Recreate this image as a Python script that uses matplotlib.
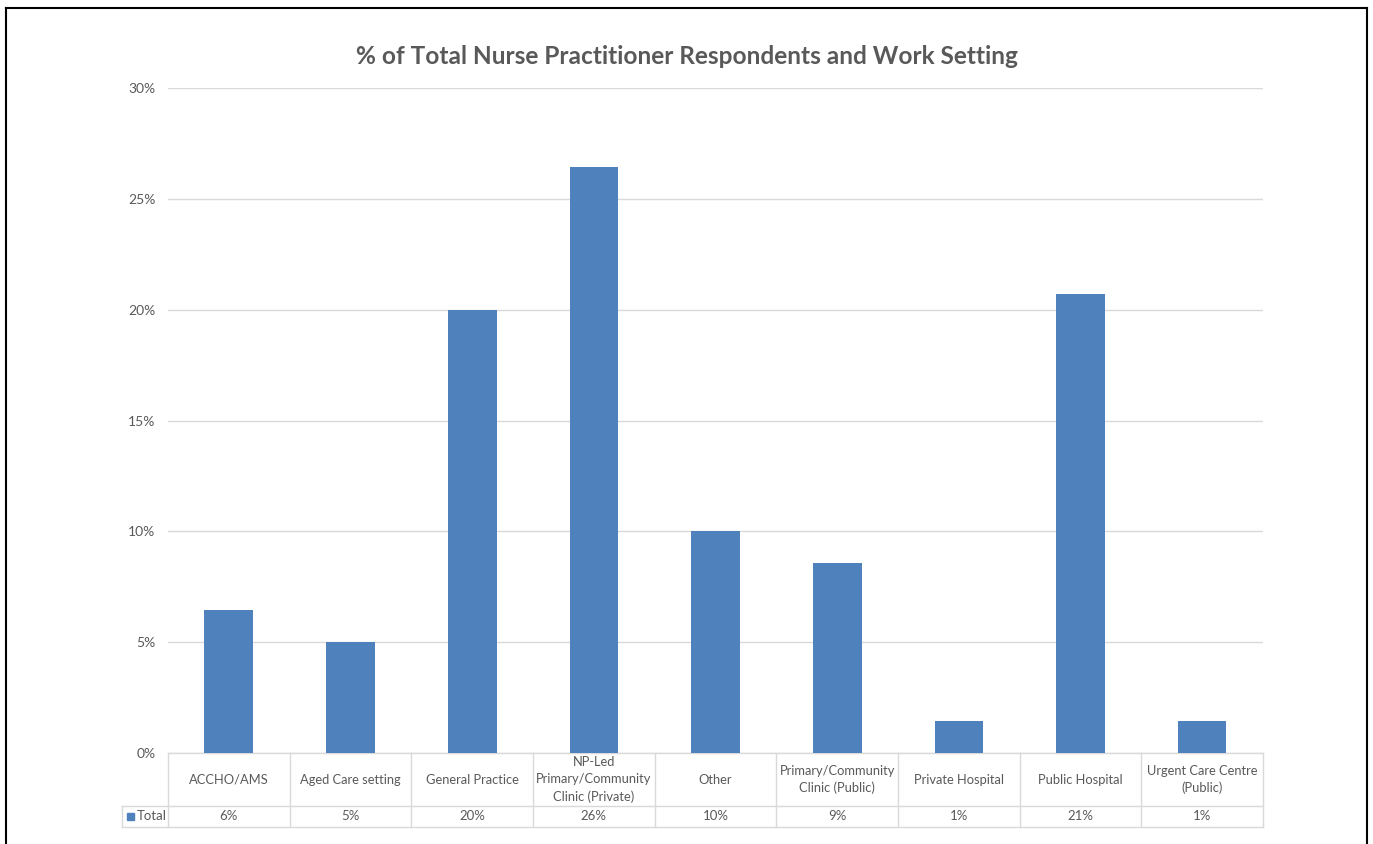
import matplotlib.pyplot as plt
from matplotlib.lines import Line2D
from matplotlib.patches import Rectangle

plt.rcParams['font.family'] = ['Lato', 'DejaVu Sans']

# data
categorias = ["ACCHO/AMS", "Aged Care setting", "General Practice",
              "NP-Led\nPrimary/Community\nClinic (Private)", "Other",
              "Primary/Community\nClinic (Public)", "Private Hospital",
              "Public Hospital", "Urgent Care Centre\n(Public)"]
valores = [6.43, 5.0, 20.0, 26.43, 10.0, 8.57, 1.43, 20.71, 1.43]
etiquetas = ["6%", "5%", "20%", "26%", "10%", "9%", "1%", "21%", "1%"]
yticks = [0, 5, 10, 15, 20, 25, 30]

azul = "#4F81BD"
gris_txt = "#595959"
gris_lin = "#D9D9D9"

fig = plt.figure(figsize=(13.73, 8.44), dpi=100)
ax = fig.add_axes([168 / 1373, 1 - 753 / 844, (1263 - 168) / 1373, (753 - 88) / 844])

x = list(range(len(categorias)))
ax.bar(x, valores, width=0.4, color=azul, zorder=3)
ax.set_xlim(-0.5, len(categorias) - 0.5)
ax.set_ylim(0, 30)
ax.set_yticks(yticks)
ax.set_yticklabels([f"{v}%" for v in yticks], color=gris_txt, fontsize=10)
ax.tick_params(axis="y", length=0, pad=9)
ax.set_xticks([])
ax.grid(axis="y", color=gris_lin, linewidth=1, zorder=0)
for s in ax.spines.values():
    s.set_visible(False)

# tabla de datos
tr = ax.get_xaxis_transform()
h1 = -53 / 665
h2 = -74 / 665
x_izq = -0.5 - 46 / ((1263 - 168) / len(categorias))
ax.add_line(Line2D([-0.5, len(categorias) - 0.5], [0, 0], transform=tr, color=gris_lin, lw=1, clip_on=False))
for yy in (h1, h2):
    ax.add_line(Line2D([x_izq, len(categorias) - 0.5], [yy, yy], transform=tr, color=gris_lin, lw=1, clip_on=False))
for i in range(len(categorias) + 1):
    ax.add_line(Line2D([i - 0.5, i - 0.5], [0, h2], transform=tr, color=gris_lin, lw=1, clip_on=False))
ax.add_line(Line2D([x_izq, x_izq], [h1, h2], transform=tr, color=gris_lin, lw=1, clip_on=False))

for i, (c, e) in enumerate(zip(categorias, etiquetas)):
    ax.text(i, h1 / 2, c, transform=tr, ha="center", va="center", fontsize=9.3,
            color=gris_txt, linespacing=1.5)
    ax.text(i, (h1 + h2) / 2, e, transform=tr, ha="center", va="center", fontsize=9.5, color=gris_txt)

ax.add_patch(Rectangle((x_izq + 0.04, (h1 + h2) / 2 - 0.006), 0.055, 0.012, transform=tr,
                       color=azul, clip_on=False))
ax.text(x_izq + 0.12, (h1 + h2) / 2, "Total", transform=tr, ha="left", va="center",
        fontsize=9.5, color=gris_txt)

fig.text(0.5, 1 - 57 / 844, "% of Total Nurse Practitioner Respondents and Work Setting",
         ha="center", va="center", fontsize=17.6, fontweight="bold", color=gris_txt)

# borde
for xs, ys in [([6, 6], [844, 8]), ([6, 1367], [8, 8]), ([1367, 1367], [8, 844])]:
    fig.add_artist(Line2D([v / 1373 for v in xs], [1 - v / 844 for v in ys], color="black", lw=1.5))

plt.savefig("out.png")
